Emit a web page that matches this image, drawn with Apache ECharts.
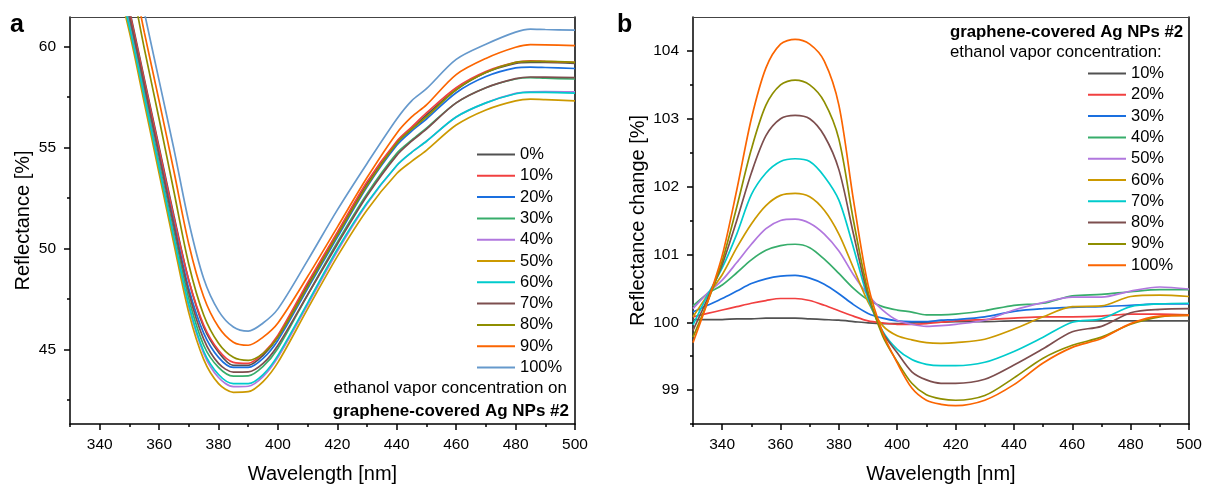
<!DOCTYPE html>
<html>
<head>
<meta charset="utf-8">
<script src="https://cdn.jsdelivr.net/npm/echarts@6/dist/echarts.min.js"></script>
<style>
  html, body { margin: 0; padding: 0; background: #fff; }
  #main { width: 1212px; height: 490px; }
</style>
</head>
<body>
<div id="main"></div>
<script>
// ---- panel a: reflectance vs wavelength ----
var wlA = [330, 340, 350, 355, 360, 365, 370, 375, 380, 385, 390, 395, 400, 410, 420, 430, 440, 445, 450, 460, 470, 480, 485, 490, 500];
var namesA = ['0%', '10%', '20%', '30%', '40%', '50%', '60%', '70%', '80%', '90%', '100%'];
var reflA0   = [74, 68, 61.8, 58.4, 55.0, 51.6, 48.4, 46.1, 44.85, 44.2, 44.2, 44.7, 45.6, 48.2, 50.7, 53.2, 55.2, 55.9, 56.6, 57.85, 58.7, 59.15, 59.2, 59.2, 59.15];
var reflA10  = [74, 68, 61.7, 58.3, 54.9, 51.5, 48.4, 46.2, 44.95, 44.35, 44.3, 44.8, 45.7, 48.3, 50.8, 53.3, 55.3, 56.0, 56.7, 57.95, 58.75, 59.2, 59.28, 59.25, 59.2];
var reflA20  = [73.5, 67.5, 61.4, 58.0, 54.6, 51.2, 48.0, 45.8, 44.6, 44.1, 44.1, 44.55, 45.45, 48.0, 50.55, 53.05, 55.1, 55.8, 56.4, 57.7, 58.5, 58.93, 58.97, 58.95, 58.9];
var reflA30  = [73, 67.2, 61.15, 57.7, 54.2, 50.8, 47.5, 45.2, 44.1, 43.67, 43.68, 44.15, 45.05, 47.7, 50.3, 52.7, 54.7, 55.35, 55.95, 57.2, 57.95, 58.38, 58.45, 58.42, 58.38];
var reflA40  = [73, 67, 61.0, 57.5, 54.0, 50.5, 47.1, 44.8, 43.6, 43.15, 43.17, 43.65, 44.6, 47.2, 49.85, 52.2, 54.1, 54.75, 55.3, 56.5, 57.2, 57.67, 57.75, 57.76, 57.74];
var reflA50  = [72.5, 66.7, 60.7, 57.2, 53.7, 50.2, 46.8, 44.5, 43.3, 42.87, 42.9, 43.4, 44.35, 47.0, 49.6, 51.9, 53.7, 54.3, 54.85, 56.1, 56.85, 57.3, 57.38, 57.36, 57.3];
var reflA60  = [72.8, 66.9, 60.95, 57.5, 54.0, 50.5, 47.2, 44.9, 43.75, 43.3, 43.3, 43.75, 44.7, 47.3, 49.95, 52.25, 54.1, 54.75, 55.3, 56.5, 57.2, 57.65, 57.72, 57.72, 57.68];
var reflA70  = [73.5, 67.6, 61.5, 58.1, 54.6, 51.1, 47.8, 45.5, 44.3, 43.87, 43.88, 44.3, 45.2, 47.7, 50.2, 52.6, 54.6, 55.3, 55.9, 57.2, 57.95, 58.4, 58.48, 58.47, 58.45];
var reflA80  = [76, 70, 63.6, 59.9, 56.4, 52.8, 49.2, 46.7, 45.3, 44.6, 44.45, 44.8, 45.6, 48.1, 50.65, 53.1, 55.2, 55.9, 56.5, 57.85, 58.7, 59.2, 59.25, 59.25, 59.2];
var reflA90  = [77, 71, 64.3, 60.7, 57.3, 53.8, 50.2, 47.6, 46.1, 45.35, 45.2, 45.6, 46.3, 48.6, 51.05, 53.5, 55.7, 56.5, 57.1, 58.6, 59.4, 59.95, 60.08, 60.07, 60.03];
var reflA100 = [78, 72, 65.3, 61.7, 58.3, 54.9, 51.3, 48.5, 46.9, 46.1, 45.9, 46.3, 47.0, 49.4, 51.9, 54.2, 56.4, 57.3, 57.9, 59.35, 60.1, 60.7, 60.85, 60.83, 60.8];
var seriesA = [reflA0, reflA10, reflA20, reflA30, reflA40, reflA50, reflA60, reflA70, reflA80, reflA90, reflA100];
var colorsA = ['#515151', '#F14040', '#1A6FDF', '#37AD6B', '#B177DE', '#CC9900', '#00CBCC', '#7D4E4E', '#8E8E00', '#FB6501', '#6699CC'];

// ---- panel b: reflectance change ----
var wlB = [330, 335, 340, 345, 350, 355, 360, 365, 370, 375, 380, 385, 390, 395, 400, 405, 410, 415, 420, 430, 440, 450, 460, 470, 480, 490, 500];
var namesB = ['10%', '20%', '30%', '40%', '50%', '60%', '70%', '80%', '90%', '100%'];
var chgB10  = [100.04, 100.04, 100.04, 100.05, 100.05, 100.06, 100.06, 100.06, 100.05, 100.04, 100.03, 100.01, 99.99, 99.98, 99.98, 99.99, 100.0, 100.0, 100.01, 100.01, 100.02, 100.02, 100.02, 100.02, 100.02, 100.02, 100.02];
var chgB20  = [100.08, 100.13, 100.18, 100.23, 100.28, 100.32, 100.35, 100.35, 100.32, 100.25, 100.17, 100.09, 100.02, 99.99, 99.97, 99.97, 99.98, 100.0, 100.02, 100.04, 100.06, 100.08, 100.08, 100.09, 100.12, 100.12, 100.11];
var chgB30  = [100.15, 100.25, 100.35, 100.46, 100.57, 100.64, 100.68, 100.69, 100.65, 100.56, 100.42, 100.26, 100.13, 100.06, 100.02, 100.01, 100.01, 100.03, 100.04, 100.08, 100.16, 100.2, 100.22, 100.23, 100.25, 100.27, 100.27];
var chgB40  = [100.24, 100.42, 100.55, 100.73, 100.92, 101.06, 101.13, 101.15, 101.1, 100.93, 100.72, 100.5, 100.33, 100.23, 100.18, 100.15, 100.11, 100.11, 100.12, 100.17, 100.25, 100.28, 100.39, 100.41, 100.45, 100.48, 100.48];
var chgB50  = [100.2, 100.43, 100.62, 100.88, 101.15, 101.38, 101.5, 101.52, 101.46, 101.3, 101.05, 100.7, 100.4, 100.18, 100.03, 99.97, 99.94, 99.95, 99.97, 100.03, 100.18, 100.29, 100.37, 100.37, 100.46, 100.52, 100.49];
var chgB60  = [100.08, 100.4, 100.7, 101.1, 101.45, 101.72, 101.87, 101.9, 101.85, 101.65, 101.3, 100.8, 100.3, 99.95, 99.8, 99.74, 99.7, 99.69, 99.7, 99.75, 99.9, 100.08, 100.23, 100.24, 100.38, 100.4, 100.38];
var chgB70  = [99.96, 100.4, 100.8, 101.3, 101.88, 102.2, 102.37, 102.41, 102.37, 102.15, 101.8, 101.1, 100.35, 99.87, 99.6, 99.45, 99.38, 99.36, 99.36, 99.41, 99.57, 99.78, 100.0, 100.05, 100.23, 100.27, 100.28];
var chgB80  = [99.88, 100.35, 100.85, 101.5, 102.2, 102.75, 103.0, 103.05, 103.0, 102.75, 102.25, 101.3, 100.4, 99.85, 99.55, 99.27, 99.15, 99.1, 99.1, 99.16, 99.37, 99.61, 99.86, 99.94, 100.14, 100.19, 100.2];
var chgB90  = [99.78, 100.3, 100.9, 101.7, 102.55, 103.2, 103.5, 103.57, 103.5, 103.25, 102.7, 101.5, 100.45, 99.8, 99.42, 99.1, 98.93, 98.87, 98.85, 98.92, 99.18, 99.47, 99.66, 99.78, 99.97, 100.08, 100.1];
var chgB100 = [99.7, 100.3, 100.98, 101.95, 103.0, 103.75, 104.1, 104.17, 104.1, 103.85, 103.2, 101.8, 100.55, 99.85, 99.4, 99.03, 98.85, 98.79, 98.77, 98.85, 99.08, 99.4, 99.63, 99.76, 99.98, 100.09, 100.1];
var seriesB = [chgB10, chgB20, chgB30, chgB40, chgB50, chgB60, chgB70, chgB80, chgB90, chgB100];
var colorsB = ['#515151', '#F14040', '#1A6FDF', '#37AD6B', '#B177DE', '#CC9900', '#00CBCC', '#7D4E4E', '#8E8E00', '#FB6501'];

// tick positions
var xMajor = [340, 360, 380, 400, 420, 440, 460, 480, 500];
var xMinor = [330, 350, 370, 390, 410, 430, 450, 470, 490];
var yMajorA = [45, 50, 55, 60];
var yMinorA = [42.5, 47.5, 52.5, 57.5];
var yMajorB = [99, 100, 101, 102, 103, 104];
var yMinorB = [98.5, 99.5, 100.5, 101.5, 102.5, 103.5];

var FONT = '"Liberation Sans", Arial, sans-serif';
var myChart = echarts.init(document.getElementById('main'));

function pairs(xs, ys) {
    var out = [];
    for (var i = 0; i < xs.length; i++) out.push([xs[i], ys[i]]);
    return out;
}

function xAxes(grid) {
    return [{
        gridIndex: grid, type: 'value', min: 330, max: 500, position: 'bottom',
        name: 'Wavelength [nm]', nameLocation: 'middle', nameGap: 40,
        nameTextStyle: { fontSize: 20, color: '#000', fontFamily: FONT },
        axisLine: { lineStyle: { color: '#000', width: 1.5 } },
        axisTick: { inside: false, length: 6, customValues: xMajor, lineStyle: { color: '#000', width: 1.5 } },
        axisLabel: { customValues: xMajor, fontSize: 15.5, color: '#000', fontFamily: FONT, margin: 13 },
        splitLine: { show: false }
    }, {
        gridIndex: grid, type: 'value', min: 330, max: 500, position: 'bottom',
        axisLine: { show: false },
        axisTick: { inside: false, length: 3, customValues: xMinor, lineStyle: { color: '#000', width: 1.5 } },
        axisLabel: { show: false }, splitLine: { show: false }
    }, {
        gridIndex: grid, type: 'value', min: 330, max: 500, position: 'top',
        axisLine: { lineStyle: { color: '#444', width: 1 } },
        axisTick: { show: false }, axisLabel: { show: false }, splitLine: { show: false }
    }];
}

function yAxes(grid, min, max, major, minor, name, gap) {
    return [{
        gridIndex: grid, type: 'value', min: min, max: max, position: 'left',
        name: name, nameLocation: 'middle', nameGap: gap,
        nameTextStyle: { fontSize: 20, color: '#000', fontFamily: FONT },
        axisLine: { lineStyle: { color: '#000', width: 1.5 } },
        axisTick: { inside: false, length: 6, customValues: major, lineStyle: { color: '#000', width: 1.5 } },
        axisLabel: { customValues: major, fontSize: 15.5, color: '#000', fontFamily: FONT, margin: 14 },
        splitLine: { show: false }
    }, {
        gridIndex: grid, type: 'value', min: min, max: max, position: 'left',
        axisLine: { show: false },
        axisTick: { inside: false, length: 3, customValues: minor, lineStyle: { color: '#000', width: 1.5 } },
        axisLabel: { show: false }, splitLine: { show: false }
    }, {
        gridIndex: grid, type: 'value', min: min, max: max, position: 'right',
        axisLine: { lineStyle: { color: '#000', width: 1.5 } },
        axisTick: { show: false }, axisLabel: { show: false }, splitLine: { show: false }
    }];
}

var series = [];
for (var i = 0; i < seriesA.length; i++) {
    series.push({
        name: 'A ' + namesA[i], type: 'line', xAxisIndex: 0, yAxisIndex: 0,
        data: pairs(wlA, seriesA[i]), symbol: 'none', smooth: 0.3,
        color: colorsA[i], lineStyle: { width: 1.7 }, z: 2
    });
}
for (var j = 0; j < seriesB.length; j++) {
    series.push({
        name: 'B ' + namesB[j], type: 'line', xAxisIndex: 3, yAxisIndex: 3,
        data: pairs(wlB, seriesB[j]), symbol: 'none', smooth: 0.3,
        color: colorsB[j], lineStyle: { width: 1.7 }, z: 2
    });
}

function legend(names, prefix, left, top) {
    return {
        orient: 'vertical', left: left, top: top, padding: 0,
        data: names.map(function (n) { return prefix + n; }),
        formatter: function (n) { return n.slice(2); },
        icon: 'rect', itemWidth: 38, itemHeight: 2, itemGap: 4.3,
        selectedMode: false,
        textStyle: { fontSize: 16.5, color: '#000', fontFamily: FONT, lineHeight: 17 }
    };
}

var option = {
    animation: false,
    grid: [
        { left: 70, top: 17, width: 505, height: 407 },
        { left: 693, top: 17, width: 496, height: 407 }
    ],
    xAxis: xAxes(0).concat(xAxes(1)),
    yAxis: yAxes(0, 41.3, 61.45, yMajorA, yMinorA, 'Reflectance [%]', 37)
        .concat(yAxes(1, 98.5, 104.5, yMajorB, yMinorB, 'Reflectance change [%]', 45)),
    legend: [
        legend(namesA, 'A ', 477, 146),
        legend(namesB, 'B ', 1088, 65)
    ],
    graphic: [
        { type: 'text', x: 10, y: 25, style: { text: 'a', font: 'bold 25px ' + FONT, fill: '#000', verticalAlign: 'middle' } },
        { type: 'text', x: 617, y: 25, style: { text: 'b', font: 'bold 25px ' + FONT, fill: '#000', verticalAlign: 'middle' } },
        { type: 'text', x: 567, y: 388, style: { text: 'ethanol vapor concentration on', font: '17px ' + FONT, fill: '#000', align: 'right', verticalAlign: 'middle' } },
        { type: 'text', x: 569, y: 411, style: { text: 'graphene-covered Ag NPs #2', font: 'bold 17px ' + FONT, fill: '#000', align: 'right', verticalAlign: 'middle' } },
        { type: 'text', x: 950, y: 32, style: { text: 'graphene-covered Ag NPs #2', font: 'bold 16.8px ' + FONT, fill: '#000', align: 'left', verticalAlign: 'middle' } },
        { type: 'text', x: 950, y: 52, style: { text: 'ethanol vapor concentration:', font: '16.8px ' + FONT, fill: '#000', align: 'left', verticalAlign: 'middle' } }
    ],
    series: series
};
myChart.setOption(option);
</script>
</body>
</html>
